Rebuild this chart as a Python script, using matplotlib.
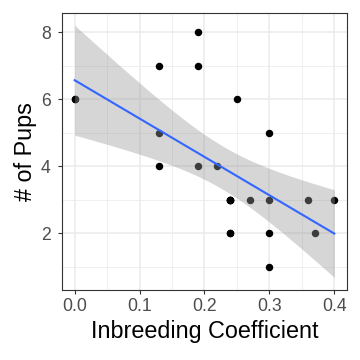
import numpy as np
import matplotlib.pyplot as plt

plt.rcParams['font.family'] = ['Liberation Sans', 'DejaVu Sans']

# wolf litters: inbreeding coefficient vs number of pups (some points overlap)
inbreeding = [0.00, 0.00, 0.13, 0.13, 0.13, 0.19, 0.19, 0.19, 0.22,
              0.24, 0.24, 0.24, 0.24, 0.24, 0.24, 0.25, 0.27,
              0.30, 0.30, 0.30, 0.30, 0.36, 0.37, 0.40]
pups = [6, 6, 7, 5, 4, 8, 7, 4, 4,
        2, 2, 3, 3, 3, 3, 6, 3,
        5, 3, 2, 1, 3, 2, 3]

x = np.array(inbreeding)
y = np.array(pups)

# linear fit with 95% confidence band (like geom_smooth(method='lm'))
n = len(x)
slope, intercept = np.polyfit(x, y, 1)
resid = y - (intercept + slope * x)
s = np.sqrt((resid ** 2).sum() / (n - 2))
t_table = {20: 2.086, 21: 2.080, 22: 2.074, 23: 2.069}
tval = t_table.get(n - 2, 2.07)
xs = np.linspace(x.min(), x.max(), 80)
fit = intercept + slope * xs
se = s * np.sqrt(1 / n + (xs - x.mean()) ** 2 / ((x - x.mean()) ** 2).sum())
lo = fit - tval * se
hi = fit + tval * se

fig = plt.figure(figsize=(3.6, 3.6), dpi=100)
ax = fig.add_axes([0.1714, 0.1944, 0.7933, 0.7703])

ax.scatter(x, y, s=29, color='black', linewidths=0, zorder=2)
ax.fill_between(xs, lo, hi, color='#999999', alpha=0.4, linewidth=0, zorder=3)
ax.plot(xs, fit, color='#3366FF', linewidth=1.5, zorder=4)

ax.set_xlim(-0.02, 0.42)
ymin = min(y.min(), lo.min())
ymax = max(y.max(), hi.max())
pad = (ymax - ymin) * 0.05
ax.set_ylim(ymin - pad, ymax + pad)

ax.set_xticks([0.0, 0.1, 0.2, 0.3, 0.4])
ax.set_xticklabels(['0.0', '0.1', '0.2', '0.3', '0.4'])
ax.set_yticks([2, 4, 6, 8])
ax.set_xticks([0.05, 0.15, 0.25, 0.35], minor=True)
ax.set_yticks([1, 3, 5, 7], minor=True)

ax.grid(which='major', color='#EBEBEB', linewidth=1.1, zorder=0)
ax.grid(which='minor', color='#EBEBEB', linewidth=0.55, zorder=0)
ax.set_axisbelow(True)

for sp in ax.spines.values():
    sp.set_color('#333333')
    sp.set_linewidth(0.8)

ax.tick_params(which='major', length=3, width=0.8, color='#333333',
               labelsize=12.7, labelcolor='#4D4D4D')
ax.tick_params(axis='x', which='major', pad=3)
ax.tick_params(axis='y', which='major', pad=5)
ax.tick_params(which='minor', length=0)

ax.set_xlabel('Inbreeding Coefficient', fontsize=16.8, labelpad=3.5)
ax.set_ylabel('# of Pups', fontsize=16.8, labelpad=3)

fig.savefig('out.png', dpi=100)
